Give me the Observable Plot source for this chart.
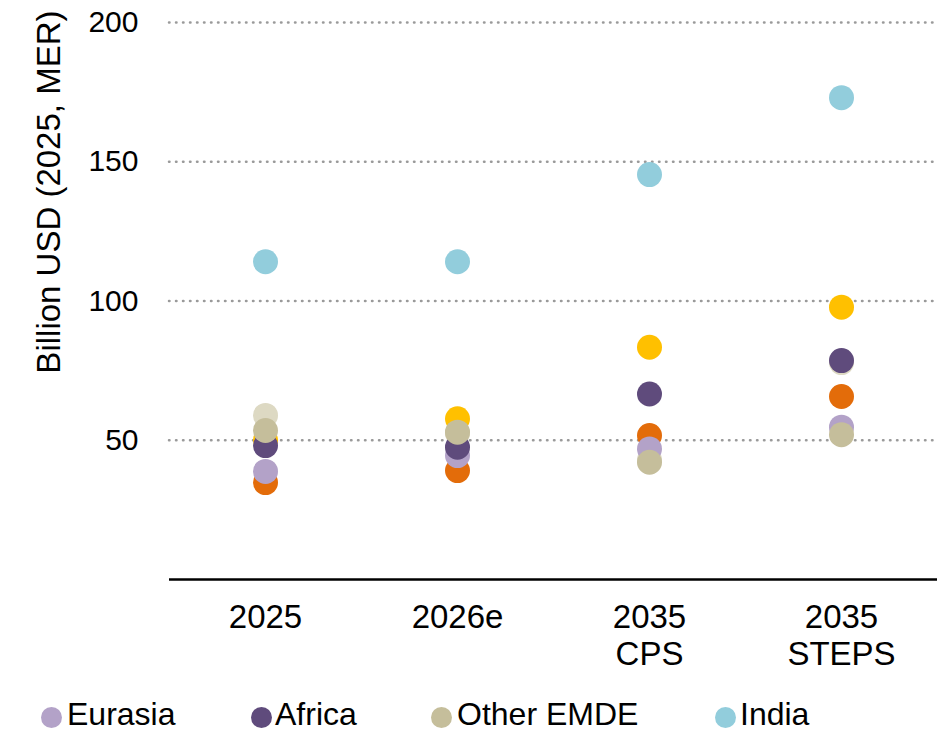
<!DOCTYPE html>
<html>
<head>
<meta charset="utf-8">
<script src="https://cdn.jsdelivr.net/npm/d3@7"></script>
<script src="https://cdn.jsdelivr.net/npm/@observablehq/plot@0.6"></script>
<style>
  html, body { margin: 0; padding: 0; background: #fff; }
  body { width: 943px; height: 733px; overflow: hidden; font-family: "Liberation Sans", Arial, sans-serif; }
  #legend { position: relative; height: 43px; width: 943px; }
  .item { position: absolute; top: 10px; font-size: 32px; line-height: 28px; color: #000; white-space: nowrap; }
  .dot { position: absolute; width: 21px; height: 21px; border-radius: 50%; top: 17px; }
</style>
</head>
<body>
<div id="chart"></div>
<div id="legend"></div>
<script>
const categories = ["2025", "2026e", "2035 CPS", "2035 STEPS"];
const categoryLabels = ["2025", "2026e", "2035\nCPS", "2035\nSTEPS"];
const yTicks = [50, 100, 150, 200];
const yLabel = "Billion USD (2025, MER)";

// series in drawing order (back to front)
const seriesNames = ["Other series A", "Other series B", "Other series C", "Eurasia", "Africa", "Other EMDE", "India"];
const seriesColors = ["#ddd9c3", "#e36c0a", "#ffc000", "#b3a2c8", "#5f4b7c", "#c5be9b", "#92cddc"];
const otherA    = [58.9, 52.5, 43.0, 77.9];
const otherB    = [34.8, 39.1, 51.7, 65.7];
const otherC    = [50.0, 57.7, 83.4, 97.8];
const eurasia   = [38.8, 44.5, 46.9, 54.7];
const africa    = [48.1, 47.5, 66.6, 78.6];
const otherEMDE = [53.5, 52.9, 42.1, 52.0];
const india     = [114.1, 114.1, 145.4, 173.0];

const legendNames = ["Eurasia", "Africa", "Other EMDE", "India"];

const seriesValues = [otherA, otherB, otherC, eurasia, africa, otherEMDE, india];
const data = [];
seriesNames.forEach((s, i) => {
  categories.forEach((c, j) => data.push({series: s, category: c, value: seriesValues[i][j]}));
});

const font = "'Liberation Sans', Arial, sans-serif";
const chart = Plot.plot({
  width: 943,
  height: 690,
  marginLeft: 169,
  marginRight: 6,
  marginTop: 22,
  marginBottom: 111,
  style: {fontFamily: font, color: "#000", background: "#fff"},
  x: {type: "band", domain: categories, padding: 0, axis: null},
  y: {domain: [0, 200], axis: null},
  color: {domain: seriesNames, range: seriesColors},
  marks: [
    Plot.gridY(yTicks, {stroke: "#9a9a9a", strokeOpacity: 1, strokeWidth: 2.5, strokeDasharray: "0.5,6.5", strokeLinecap: "round"}),
    Plot.axisY(yTicks, {tickSize: 0, tickPadding: 31, fontSize: 30, label: null, tickFormat: d => String(d)}),
    Plot.axisX(categories, {tickSize: 0, tickPadding: 22, fontSize: 33, lineHeight: 1.12, label: null,
      tickFormat: d => categoryLabels[categories.indexOf(d)]}),
    Plot.ruleY([0], {stroke: "#000", strokeWidth: 2.5}),
    Plot.dot(data, {x: "category", y: "value", fill: "series", r: 12.5, stroke: null}),
    Plot.text([yLabel], {frameAnchor: "top-left", rotate: -90, textAnchor: "end", dx: -133, dy: -12, fontSize: 33, fill: "#000"})
  ]
});
document.getElementById("chart").appendChild(chart);

const legendPos = [{dot: 51, text: 67}, {dot: 261, text: 275}, {dot: 441, text: 457}, {dot: 725, text: 740}];
const legend = document.getElementById("legend");
legendNames.forEach((name, i) => {
  const color = seriesColors[seriesNames.indexOf(name)];
  const d = document.createElement("div");
  d.className = "dot";
  d.style.left = (legendPos[i].dot - 10.5) + "px";
  d.style.background = color;
  legend.appendChild(d);
  const t = document.createElement("div");
  t.className = "item";
  t.style.left = legendPos[i].text + "px";
  t.textContent = name;
  legend.appendChild(t);
});
</script>
</body>
</html>
